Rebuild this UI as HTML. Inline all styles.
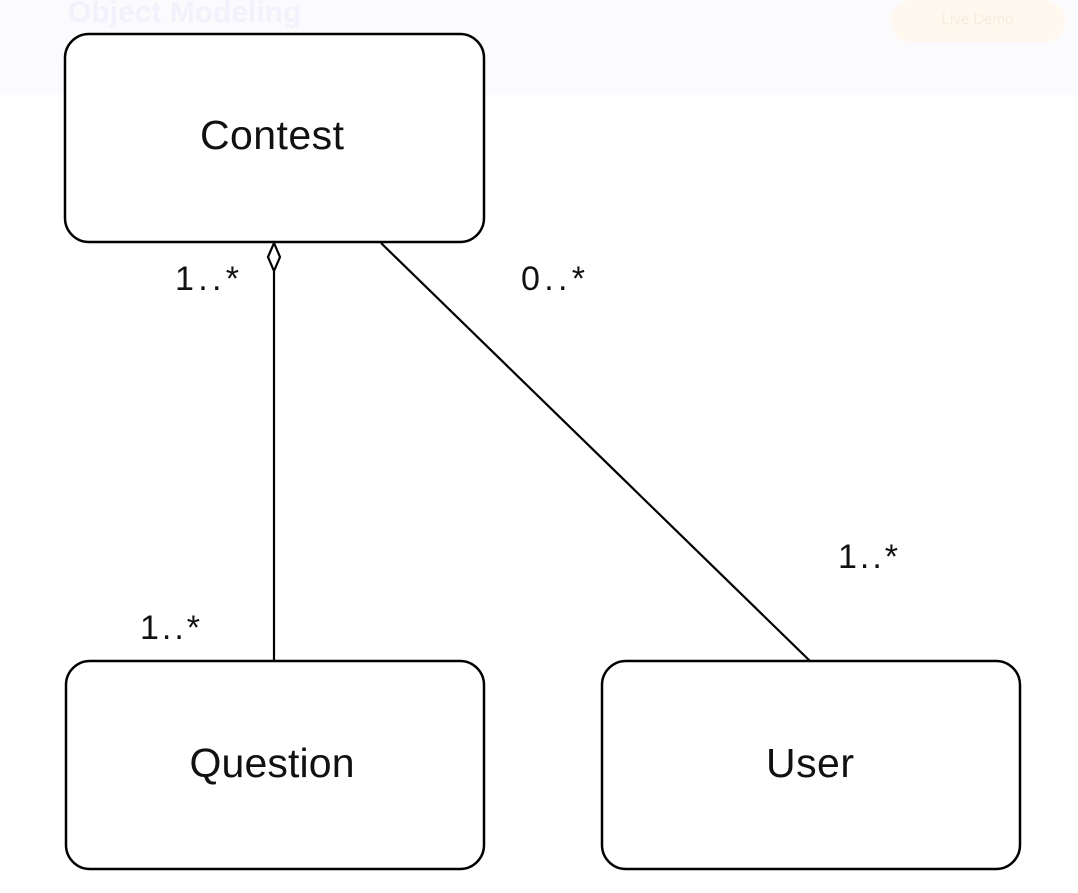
<!DOCTYPE html>
<html><head><style>
body{margin:0;width:1078px;height:893px;background:#fff;overflow:hidden;position:relative;font-family:"Liberation Sans",Arial,sans-serif}
</style></head><body>
<div style="position:absolute;left:0;top:0;width:1078px;height:95px;background:#fbfbfd"></div>
<div style="position:absolute;left:68px;top:-4px;font-size:30px;font-weight:bold;color:#f1f2fb">Object Modeling</div>
<div style="position:absolute;left:890px;top:0;width:175px;height:42px;border-radius:21px;background:#fff8ee;color:#f6ecdd;font-size:15px;text-align:center;line-height:40px">Live Demo</div>
<svg width="1078" height="893" style="position:absolute;left:0;top:0">
<g fill="#fff" stroke="#000" stroke-width="2.5">
<rect x="65" y="34" width="419" height="208" rx="24"/>
<rect x="66" y="661" width="418" height="208" rx="24"/>
<rect x="602" y="661" width="418" height="208" rx="24"/>
</g>
<line x1="274" y1="271" x2="274" y2="661" stroke="#000" stroke-width="2.2"/>
<polygon points="274,243 280,257 274,271 268,257" fill="#fff" stroke="#000" stroke-width="2.2"/>
<line x1="381" y1="243" x2="810" y2="661" stroke="#000" stroke-width="2.2"/>
<g font-family="Liberation Sans, Arial, sans-serif" fill="#111">
<text x="272" y="149" font-size="41" text-anchor="middle" textLength="144">Contest</text>
<text x="272" y="777" font-size="41" text-anchor="middle" textLength="165">Question</text>
<text x="810" y="777" font-size="41" text-anchor="middle" textLength="88">User</text>
<g font-size="34">
<text x="175" y="290" textLength="64">1..*</text>
<text x="521" y="290" textLength="64">0..*</text>
<text x="838" y="568" textLength="60">1..*</text>
<text x="140" y="639" textLength="60">1..*</text>
</g></g>
</svg>
</body></html>
